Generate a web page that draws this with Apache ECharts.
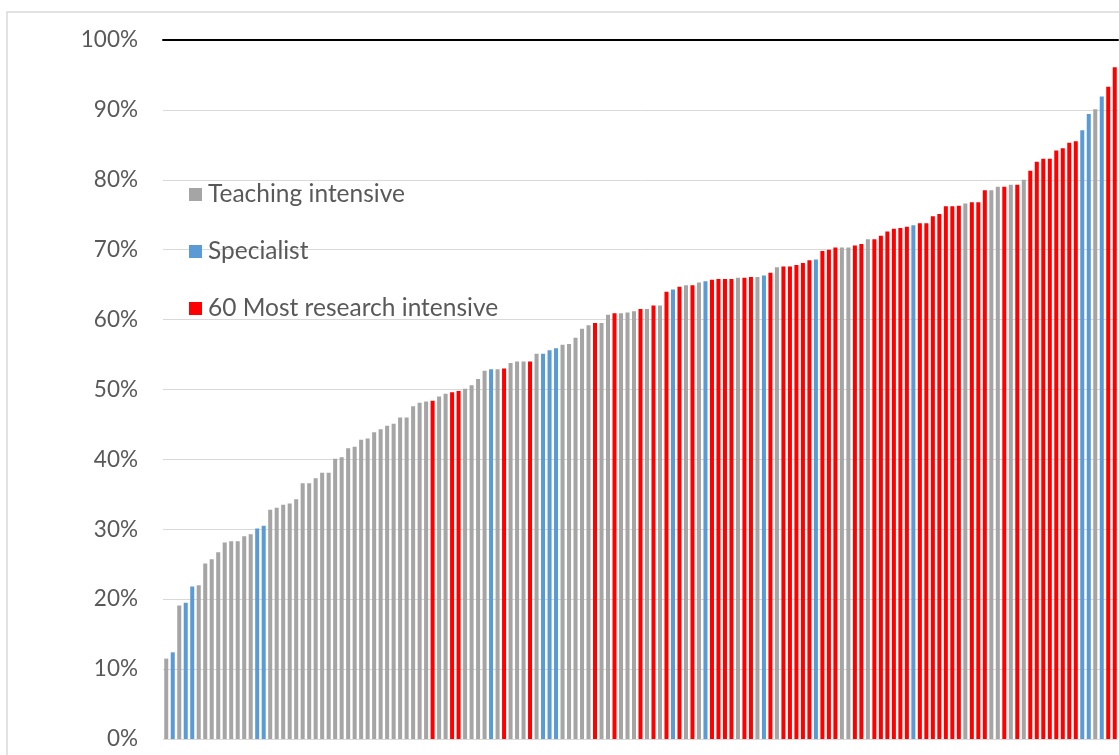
<!DOCTYPE html>
<html>
<head>
<meta charset="utf-8">
<script src="https://cdn.jsdelivr.net/npm/echarts@6/dist/echarts.min.js"></script>
<style>
html,body{margin:0;padding:0;background:#fff;}
#chart{width:1119px;height:755px;}
</style>
</head>
<body>
<div id="chart"></div>
<script>
// share of each institution, sorted ascending (%)
var values = [
  11.5,12.4,19.1,19.5,21.8,22.0,25.1,25.7,26.7,28.1,
  28.3,28.3,29.0,29.3,30.1,30.5,32.8,33.1,33.5,33.7,
  34.3,36.6,36.6,37.3,38.1,38.1,40.1,40.3,41.6,41.8,
  42.8,43.0,43.9,44.3,44.8,45.1,46.0,46.0,47.6,48.1,
  48.3,48.4,49.0,49.4,49.6,49.8,50.1,50.6,51.5,52.7,
  52.9,52.9,53.0,53.8,54.0,54.0,54.0,55.1,55.1,55.6,
  55.9,56.4,56.5,57.4,58.7,59.2,59.5,59.5,60.7,60.9,
  60.9,61.0,61.2,61.5,61.5,62.0,62.0,64.0,64.3,64.7,
  64.9,64.9,65.3,65.5,65.7,65.8,65.8,65.8,66.0,66.0,
  66.1,66.1,66.3,66.7,67.5,67.6,67.6,67.8,68.1,68.5,
  68.6,69.8,70.0,70.3,70.3,70.3,70.6,70.8,71.5,71.5,
  72.0,72.6,73.0,73.1,73.3,73.5,73.8,73.8,74.8,75.1,
  76.2,76.2,76.3,76.6,76.8,76.8,78.5,78.5,79.0,79.0,
  79.3,79.3,80.0,81.3,82.6,83.0,83.0,84.2,84.5,85.3,
  85.5,87.1,89.4,90.1,91.9,93.3,96.1
];
// T = teaching intensive, S = specialist, R = most research intensive
var groups = (
  'TSTSSTTTTTTTTTSSTTTTTTTTTTTTTT' +
  'TTTTTTTTTTTRTTRRTTTTSTRTTTRTSS' +
  'STTTTTRTTRTTTRTRTRSRTRTSRRRRTR' +
  'RTSRTRRRRRSRRRTTRRTRRRRRRSRRRR' +
  'RRRTRRRTTRTRTRRRRRRRRSSTSRR'
).split('');

var seriesNames = ['Teaching intensive', 'Specialist', '60 Most research intensive'];
var seriesCodes = ['T', 'S', 'R'];
var seriesColors = ['#A5A5A5', '#5B9BD5', '#FF0000'];

var categories = values.map(function (v, i) { return String(i + 1); });

var chart = echarts.init(document.getElementById('chart'));

var series = seriesCodes.map(function (code, k) {
  return {
    name: seriesNames[k],
    type: 'bar',
    barGap: '-100%',
    barCategoryGap: '38%',
    itemStyle: { color: seriesColors[k] },
    data: values.map(function (v, i) { return groups[i] === code ? v : '-'; })
  };
});

var option = {
  animation: false,
  backgroundColor: '#fff',
  textStyle: { fontFamily: 'Lato' },
  graphic: [{
    type: 'rect',
    z: -1,
    shape: { x: 7, y: 12, width: 1200, height: 800 },
    style: { fill: 'none', stroke: '#D9D9D9', lineWidth: 1.5 }
  }],
  legend: {
    orient: 'vertical',
    left: 184,
    top: 177,
    itemWidth: 13,
    itemHeight: 13,
    itemGap: 32,
    icon: 'rect',
    data: seriesNames,
    textStyle: { fontFamily: 'Lato', fontSize: 24.5, color: '#595959', padding: [0, 0, 0, 1] }
  },
  grid: { left: 163, right: 1, top: 40, bottom: 16 },
  xAxis: {
    type: 'category',
    position: 'top',
    data: categories,
    axisLine: { show: true, onZero: false, lineStyle: { color: '#000', width: 2 } },
    axisTick: { show: false },
    axisLabel: { show: false },
    splitLine: { show: false }
  },
  yAxis: {
    type: 'value',
    min: 0,
    max: 100,
    interval: 10,
    axisLine: { show: false },
    axisTick: { show: false },
    axisLabel: {
      formatter: '{value}%',
      fontFamily: 'Lato',
      fontSize: 22.5,
      color: '#595959',
      margin: 25
    },
    splitLine: { lineStyle: { color: '#D9D9D9', width: 1 } }
  },
  series: series
};

chart.setOption(option);
</script>
</body>
</html>
